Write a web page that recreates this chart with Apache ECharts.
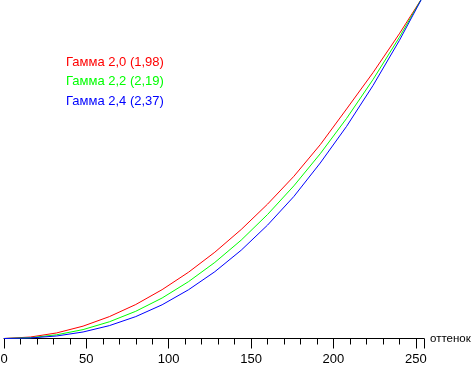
<!DOCTYPE html>
<html>
<head>
<meta charset="utf-8">
<script src="https://cdn.jsdelivr.net/npm/echarts@6/dist/echarts.min.js"></script>
<style>
  html, body { margin: 0; padding: 0; background: #ffffff; }
  #chart { width: 474px; height: 365px; }
</style>
</head>
<body>
<div id="chart"></div>
<script>
// Input level (0..255)
const levels = [0, 16, 32, 48, 64, 80, 96, 112, 128, 144, 160, 176, 192, 208, 224, 240, 255];
// Output brightness, per curve
const gamma20 = [0, 1.1, 4.2, 9.3, 16.5, 25.6, 36.8, 49.9, 65.0, 82.1, 101.2, 122.2, 146.0, 172.9, 200.2, 229.5, 258.8];
const gamma22 = [0, 0.6, 2.8, 6.7, 12.6, 20.5, 30.5, 42.8, 57.3, 74.1, 93.4, 115.0, 139.2, 165.8, 195.0, 226.8, 259.1];
const gamma24 = [0, 0.4, 1.9, 4.9, 9.7, 16.5, 25.4, 36.7, 50.3, 66.5, 85.4, 107.0, 132.2, 159.8, 190.5, 224.4, 259.1];
const seriesNames = ['Гамма 2,0 (1,98)', 'Гамма 2,2 (2,19)', 'Гамма 2,4 (2,37)'];
const seriesColors = ['#ff0000', '#00ff00', '#0000ff'];
const xTicks = [0, 50, 100, 150, 200, 250];
const axisName = 'оттенок';

const FONT = 'Liberation Sans, Arial, sans-serif';
const seriesData = [gamma20, gamma22, gamma24];

const chart = echarts.init(document.getElementById('chart'), null, { renderer: 'canvas' });
chart.setOption({
  animation: false,
  backgroundColor: '#ffffff',
  grid: { left: 4, right: 50, top: 0, bottom: 26.5, containLabel: false, outerBoundsMode: 'none' },
  legend: {
    orient: 'vertical',
    left: 56,
    top: 50,
    icon: 'none',
    itemWidth: 0,
    itemHeight: 14,
    itemGap: 6,
    selectedMode: false,
    textStyle: { fontFamily: FONT, fontSize: 13 },
    data: seriesNames.map((n, i) => ({ name: n, textStyle: { color: seriesColors[i] } }))
  },
  xAxis: {
    type: 'value',
    min: 0,
    max: 255,
    interval: 50,
    name: axisName,
    nameLocation: 'end',
    nameGap: 6,
    nameTextStyle: { fontFamily: FONT, fontSize: 11.5, color: '#000000' },
    axisLine: { onZero: false, lineStyle: { color: '#000000', width: 1 } },
    axisTick: { show: true, length: 10, lineStyle: { color: '#000000' } },
    minorTick: { show: true, splitNumber: 5, length: 6, lineStyle: { color: '#000000' } },
    splitLine: { show: false },
    axisLabel: {
      fontFamily: FONT, fontSize: 13, color: '#000000', margin: 14,
      showMaxLabel: false,
      formatter: v => (xTicks.indexOf(v) >= 0 ? String(v) : '')
    }
  },
  yAxis: {
    type: 'value',
    min: 0,
    max: 255,
    show: false,
    splitLine: { show: false }
  },
  series: seriesNames.map((n, i) => ({
    name: n,
    type: 'line',
    showSymbol: false,
    symbol: 'none',
    lineStyle: { color: seriesColors[i], width: 1 },
    itemStyle: { color: seriesColors[i] },
    data: levels.map((x, k) => [x, seriesData[i][k]])
  }))
});
</script>
</body>
</html>
